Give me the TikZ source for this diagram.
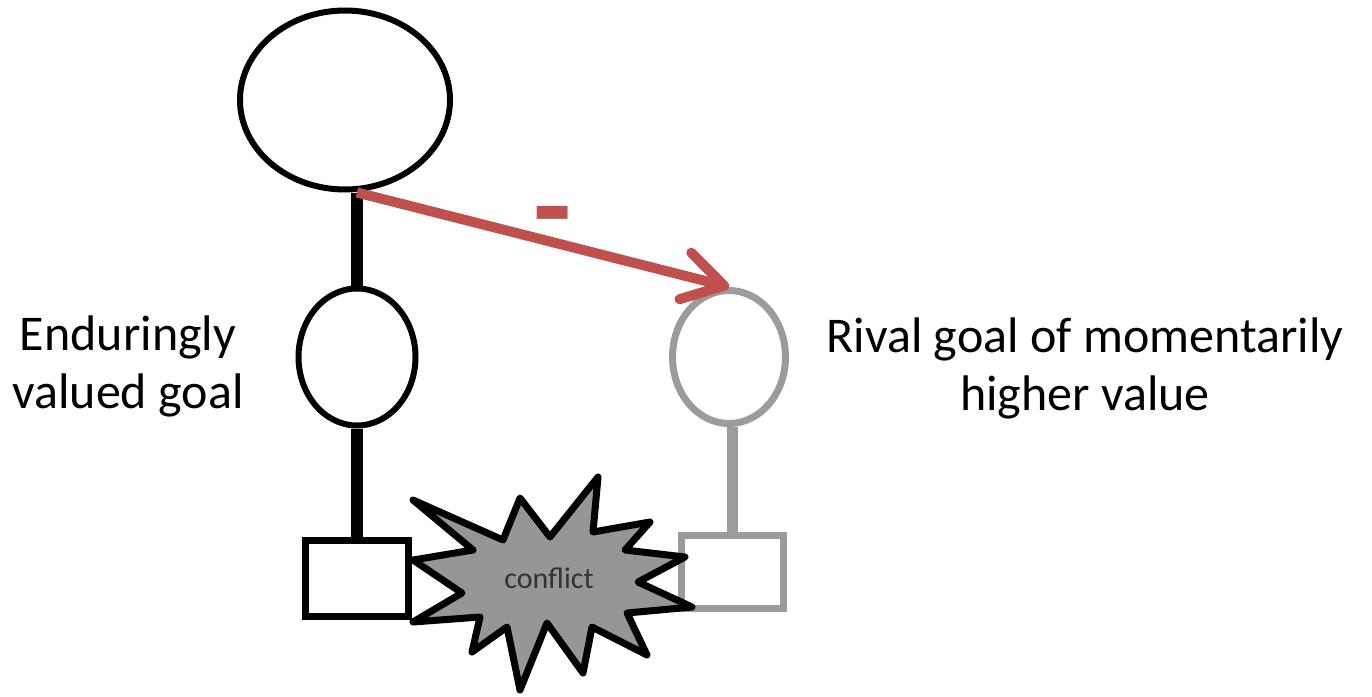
\documentclass[tikz,border=0pt]{standalone}
\usepackage{fontspec}
\setmainfont{Carlito}
\usetikzlibrary{shapes.geometric,arrows.meta,calc}
\definecolor{arrowred}{RGB}{192,80,77}
\definecolor{rivalgray}{RGB}{155,155,155}
\definecolor{burstgray}{RGB}{150,150,150}

\begin{document}
\begin{tikzpicture}[x=1pt,y=-1pt,
	goal/.style={draw, ellipse, line width=6pt, inner sep=0pt},
	act/.style={draw, rectangle, line width=7pt, inner sep=0pt},
	link/.style={line width=12pt},
	label/.style={align=center, font=\fontsize{50}{58}\selectfont}]
	\useasboundingbox (0,0) rectangle (1372,696);
	% goals
	\node[goal, minimum width=210pt, minimum height=179pt] (self) at (345,100) {};
	\node[goal, minimum width=117pt, minimum height=137pt] (goal) at (357,357) {};
	\node[goal, draw=rivalgray, line width=7pt, minimum width=113pt, minimum height=133pt] (rival) at (729,357) {};
	% actions
	\node[act, minimum width=103pt, minimum height=76pt] (act) at (357,578) {};
	\node[act, draw=rivalgray, minimum width=102pt, minimum height=73pt] (ract) at (732,572) {};
	\coordinate (fork) at (goal.north |- self.south);
	\path[link]
		(goal.north) edge (fork)
		(goal.south) edge (act.north)
		(rival.south -| ract.north) edge[rivalgray, line width=11pt] (ract.north);
	% conflict
	\draw[line width=7pt, line join=round, fill=burstgray]
		(413,500) -- (503,540) -- (520,498) -- (550,537) -- (598,477) -- (593,532)
		-- (650,522) -- (625,550) -- (685,557) -- (638,582) -- (692,607) -- (627,613)
		-- (647,655) -- (592,627) -- (583,673) -- (547,623) -- (520,690) -- (507,627)
		-- (472,652) -- (480,617) -- (413,622) -- (462,593) -- (413,560) -- (473,550) -- cycle;
	\node[text=black!80, font=\fontsize{30}{30}\selectfont] (clash) at (549,578) {conflict};
	% rival value
	\draw[arrowred, line width=10pt, -{Straight Barb[round, length=40pt, width=48pt]}]
		(fork) -- (rival.north);
	\node[text=arrowred, font=\fontsize{125}{125}\selectfont\bfseries] (minus) at (553,227) {-};
	\node[label] (goallabel) at (128,366) {Enduringly\\valued goal};
	\node[label] (rivallabel) at (1085,368) {Rival goal of momentarily\\higher value};
\end{tikzpicture}
\end{document}
